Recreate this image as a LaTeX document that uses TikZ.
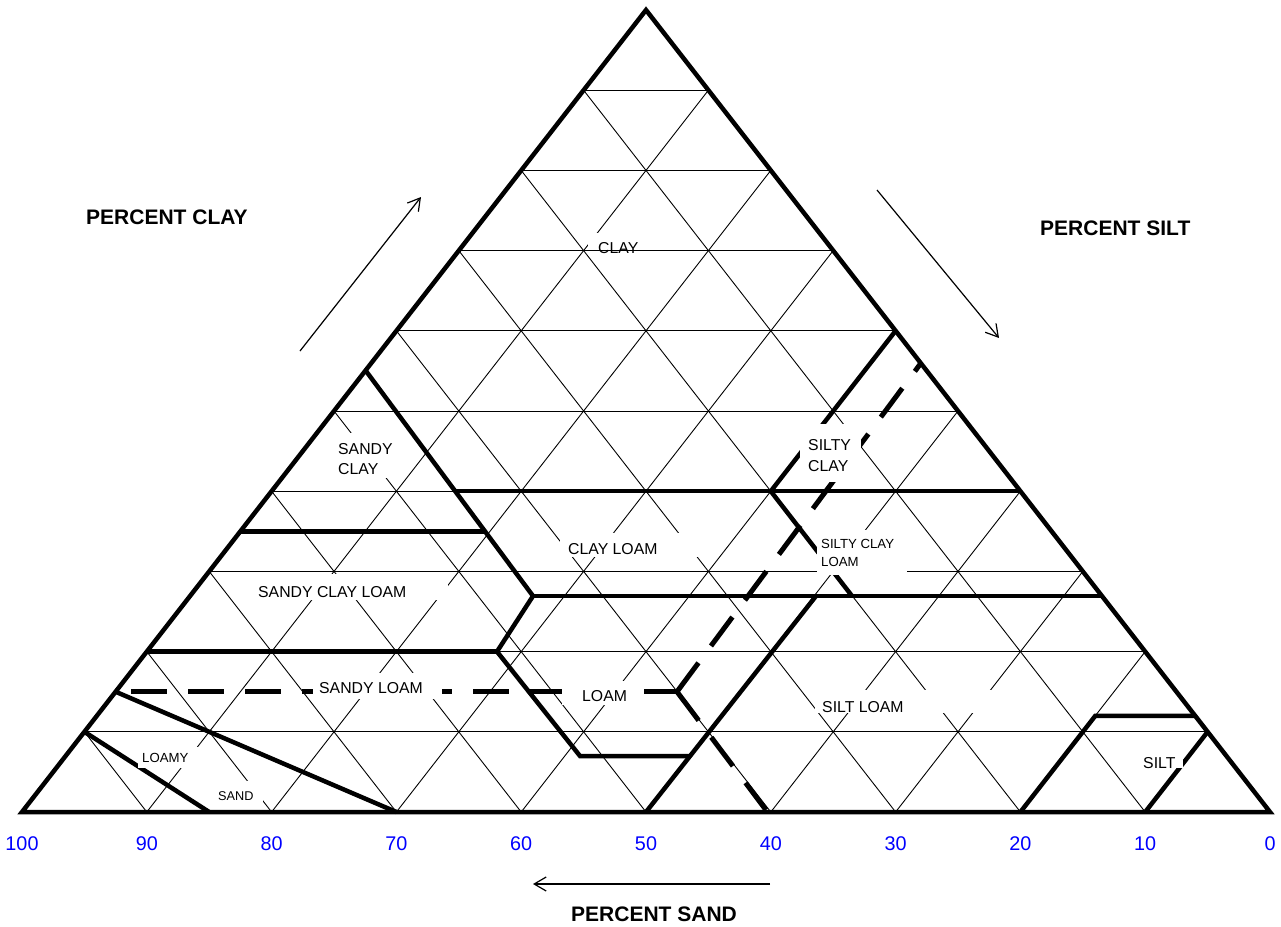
\documentclass[tikz,border=0pt]{standalone}
\usepackage{fontspec}
\setmainfont{Liberation Sans}
\usetikzlibrary{arrows.meta}
\definecolor{numblue}{RGB}{0,0,255}
\begin{document}
\begin{tikzpicture}[x=1pt,y=-1pt,
  gridline/.style={line width=0.9pt},
  bound/.style={line width=4.5pt},
  dashb/.style={line width=5pt, dash pattern=on 36pt off 21pt},
  wbox/.style={fill=white},
  lab/.style={inner sep=0pt, anchor=base west, font=\fontsize{15.8}{19}\selectfont},
  labsm/.style={inner sep=0pt, anchor=base west, font=\fontsize{13.2}{16}\selectfont},
  axlab/.style={inner sep=0pt, anchor=base west, font=\bfseries\fontsize{21}{25}\selectfont},
  num/.style={inner sep=0pt, anchor=base, text=numblue, font=\fontsize{19.8}{23}\selectfont},
  axarrow/.style={line width=1.2pt, -{Straight Barb[length=12pt,width=14pt]}}]
\useasboundingbox (0,0) rectangle (1281,926);
\fill[white] (0,0) rectangle (1281,926);

% thin grid
\foreach \k in {1,...,9}{
  \draw[gridline] ({22+62.4*\k},{812-80.2*\k}) -- ({1270-62.4*\k},{812-80.2*\k});
  \draw[gridline] ({1270-124.8*\k},812) -- ({646-62.4*\k},{10+80.2*\k});
  \draw[gridline] ({22+124.8*\k},812) -- ({646+62.4*\k},{10+80.2*\k});
}

% CLAY label (grid line drawn over it)
\fill[wbox] (588,233) rectangle (648,251);
\node[lab] (tclay) at (598,253) {CLAY};
\draw[gridline] (458.8,250.6) -- (833.2,250.6);

% outer triangle
\draw[bound] (22,812) -- (646,10) -- (1270,812) -- cycle;

% class boundaries
\draw[bound] (366,371) -- (533,596);
\draw[bound] (240.4,531.3) -- (485,531.3);
\draw[bound] (455.2,491.2) -- (1020.4,491.2);
\draw[bound] (895.6,330.8) -- (770.8,491.2) -- (852,596);
\draw[bound] (533,596) -- (1101.9,596);
\draw[bound] (533,596) -- (497,651.6) -- (580,756) -- (690.8,756);
\draw[bound] (146.8,651.6) -- (497,651.6);
\draw[bound] (646,812) -- (816,596);
\draw[bound] (1020.4,812) -- (1095.3,715.8) -- (1195.1,715.8);
\draw[bound] (1145.2,812) -- (1207.6,731.8);
\draw[bound] (115.6,691.7) -- (396.4,812);
\draw[bound] (84.4,731.8) -- (209.2,812);

% dashed lines
\draw[dashb] (131,691.7) -- (677,691.7);
\draw[dashb] (677,691.7) -- (921,363);
\draw[dashb] (677,691.7) -- (766,810);

% label boxes
\fill[wbox] (800,424) rectangle (861,482);
\fill[wbox] (817,530) rectangle (907,575);
\fill[wbox] (330,433) rectangle (400,478);
\fill[wbox] (250,574) rectangle (448,600);
\fill[wbox] (560,533) rectangle (702,557);
\fill[wbox] (313,673) rectangle (442,699);
\fill[wbox] (562,681) rectangle (643,705);
\fill[wbox] (815,690) rectangle (995,713);
\fill[wbox] (1138,748) rectangle (1183,768);
\fill[wbox] (138,747) rectangle (200,768);
\fill[wbox] (212,781) rectangle (263,803);

% class labels
\node[lab] (tsc1) at (808,450) {SILTY};
\node[lab] (tsc2) at (808,471) {CLAY};
\node[labsm] (tscl1) at (821,548) {SILTY CLAY};
\node[labsm] (tscl2) at (821,566) {LOAM};
\node[lab] (tsac1) at (338,454) {SANDY};
\node[lab] (tsac2) at (338,474) {CLAY};
\node[lab] (tsacl) at (258,597) {SANDY CLAY LOAM};
\node[lab] (tcl) at (568,554) {CLAY LOAM};
\node[lab] (tsl) at (319,693) {SANDY LOAM};
\node[lab] (tl) at (582,701) {LOAM};
\node[lab] (tsil) at (822,712) {SILT LOAM};
\node[lab] (tsi) at (1143,768) {SILT};
\node[labsm] (tls1) at (142,762) {LOAMY};
\node[inner sep=0pt, anchor=base west, font=\fontsize{12.7}{15}\selectfont] (tls2) at (218,800) {SAND};

% axis titles
\node[axlab] (pclay) at (86,224) {PERCENT CLAY};
\node[axlab] (psilt) at (1040,235) {PERCENT SILT};
\node[axlab] (psand) at (571,921) {PERCENT SAND};

% axis arrows
\coordinate (clayA) at (300,351); \coordinate (clayB) at (421,197);
\coordinate (siltA) at (877,190); \coordinate (siltB) at (999,338);
\coordinate (sandA) at (770,884); \coordinate (sandB) at (533,884);
\draw[axarrow] (clayA) -- (clayB);
\draw[axarrow] (siltA) -- (siltB);
\draw[axarrow] (sandA) -- (sandB);

% sand scale numbers
\foreach \v in {0,10,...,100}{
  \node[num] (n\v) at ({1270-12.48*\v},850) {\v};
}
\end{tikzpicture}
\end{document}
